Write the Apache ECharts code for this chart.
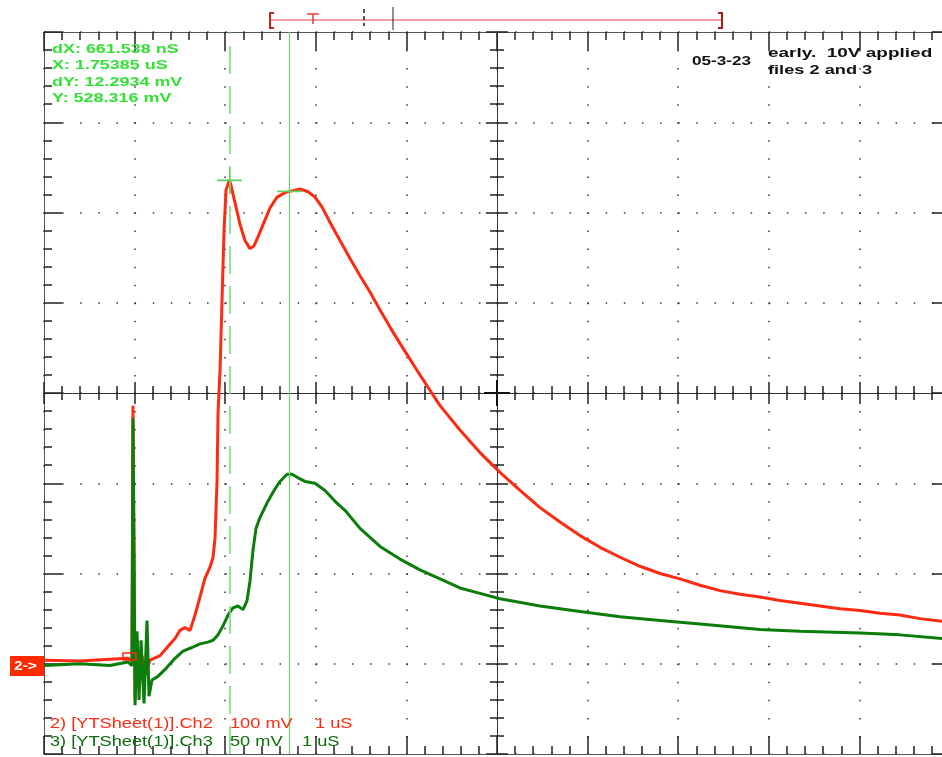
<!DOCTYPE html>
<html>
<head>
<meta charset="utf-8">
<title>scope capture</title>
<script src="https://cdn.jsdelivr.net/npm/echarts@6/dist/echarts.min.js"></script>
<style>
html,body{margin:0;padding:0;background:#fff;}
#main{width:942px;height:757px;}
</style>
</head>
<body>
<div id="main"></div>
<script>
// Ch2 (red, 100 mV/div): time in uS, value in mV
var ch2Time = [-0.95, -0.56, -0.23, -0.03, 0.015, 0.026, 0.038, 0.049, 0.071, 0.093, 0.126, 0.159, 0.214, 0.325, 0.402, 0.490, 0.545, 0.600, 0.656, 0.711, 0.766, 0.821, 0.876, 0.910, 0.932, 0.954, 0.965, 0.987, 1.009, 1.031, 1.053, 1.090, 1.108, 1.152, 1.207, 1.262, 1.317, 1.361, 1.406, 1.472, 1.538, 1.616, 1.704, 1.781, 1.870, 1.958, 2.035, 2.113, 2.201, 2.311, 2.422, 2.532, 2.642, 2.753, 2.863, 2.973, 3.194, 3.415, 3.635, 3.856, 4.077, 4.298, 4.519, 4.739, 4.960, 5.181, 5.402, 5.622, 5.843, 6.064, 6.285, 6.506, 6.726, 6.947, 7.168, 7.389, 7.609, 7.830, 8.051, 8.272, 8.492, 8.713, 8.956, 9.044];
var ch2Mv = [9, 8, 10, 11, 9, 291, 120, -35, 31, -24, 14, -8, 9, 14, 23, 33, 42, 45, 42, 59, 79, 100, 112, 123, 145, 208, 283, 330, 408, 485, 530, 541, 535, 516, 492, 474, 465, 468, 478, 494, 510, 522, 527, 529, 531, 528, 522, 511, 494, 474, 454, 435, 417, 397, 378, 360, 325, 291, 264, 239, 217, 197, 178, 162, 147, 134, 123, 113, 105, 99, 92, 86, 82, 79, 75, 72, 69, 66, 64, 61, 59, 55, 52, 51];

// Ch3 (green, 50 mV/div)
var ch3Time = [-0.95, -0.56, -0.23, -0.03, 0.015, 0.026, 0.038, 0.049, 0.071, 0.093, 0.115, 0.148, 0.181, 0.203, 0.236, 0.302, 0.402, 0.490, 0.578, 0.678, 0.766, 0.854, 0.910, 0.965, 1.020, 1.075, 1.130, 1.185, 1.241, 1.285, 1.318, 1.351, 1.384, 1.428, 1.505, 1.583, 1.649, 1.726, 1.781, 1.848, 1.925, 2.035, 2.146, 2.256, 2.366, 2.532, 2.753, 2.973, 3.194, 3.415, 3.635, 3.856, 4.077, 4.519, 4.960, 5.402, 5.843, 6.285, 6.947, 7.389, 8.051, 8.492, 8.956, 9.044];
var ch3Mv = [-1, 0, -1, 1, -1, 136, 57, -23, 18, -20, 13, -22, 24, -18, -9, -7, -2, 3, 7, 9, 11, 12, 13, 16, 21, 27, 31, 32, 30, 35, 46, 63, 75, 81, 89, 96, 101, 105, 105, 103, 101, 100, 96, 90, 85, 75, 65, 58, 52, 47, 42, 39, 36, 32, 29, 26, 24, 22, 19, 18, 17, 16, 14, 14];

// cursor readout
var cursorX = 1.75385;   // uS
var cursorDx = 0.661538; // uS
var cursorY = 528.316;   // mV
var cursorDy = 12.2934;  // mV
var readouts = ['dX: 661.538 nS', 'X: 1.75385 uS', 'dY: 12.2934 mV', 'Y: 528.316 mV'];
var notes = ['05-3-23', 'early.  10V applied', 'files 2 and 3'];
var ch2Label = ['2) [YTSheet(1)].Ch2', '100 mV', '1 uS'];
var ch3Label = ['3) [YTSheet(1)].Ch3', '50 mV', '1 uS'];

function zip(xs, ys) {
    var out = [];
    for (var i = 0; i < xs.length; i++) out.push([xs[i], ys[i]]);
    return out;
}

var myChart = echarts.init(document.getElementById('main'));

var tickColor = '#222';
function frameAxis(pos, extra) {
    var a = {
        gridIndex: 0, type: 'value', position: pos,
        axisLine: {show: true, onZero: false, lineStyle: {color: '#555', width: 1}},
        axisTick: {show: true, inside: true, length: 18, lineStyle: {color: tickColor, width: 1.5}},
        minorTick: {show: true, splitNumber: 5, length: 8, lineStyle: {color: tickColor, width: 1.5}},
        axisLabel: {show: false},
        splitLine: {show: false}
    };
    for (var k in extra) a[k] = extra[k];
    return a;
}
function centerAxis(pos, offset, inside, showLine, range) {
    return {
        gridIndex: 0, type: 'value', position: pos, offset: offset,
        min: range.min, max: range.max, interval: range.interval,
        axisLine: {show: showLine, onZero: false, lineStyle: {color: '#333', width: 1}},
        axisTick: {show: true, inside: inside, length: 11, lineStyle: {color: tickColor, width: 1.5}},
        minorTick: {show: true, splitNumber: 5, length: 7, lineStyle: {color: tickColor, width: 1.5}},
        axisLabel: {show: false},
        splitLine: {show: false}
    };
}

var xDiv = {min: 0, max: 10, interval: 1};
var yDiv = {min: -4, max: 4, interval: 1};

function txt(x, y, s, color, font, sx) {
    return {
        type: 'text', x: x, y: y, scaleX: sx, z: 100,
        style: {text: s, fill: color, font: font, verticalAlign: 'middle'}
    };
}
var boldFont = 'bold 13px "Liberation Sans", Arial, sans-serif';
var plainFont = '14px "Liberation Sans", Arial, sans-serif';
var green = '#35e035';
var barRed = '#d84040';

var option = {
    animation: false,
    backgroundColor: '#fff',
    grid: {left: 44, top: 32, width: 906, height: 722, outerBoundsMode: 'none', containLabel: false},
    xAxis: [
        frameAxis('bottom', {min: 0, max: 10, interval: 1,
            splitLine: {show: true, lineStyle: {color: '#333', width: 1.5, type: [1.5, 16.55]}}}),
        frameAxis('top', xDiv),
        centerAxis('bottom', -361, true, true, xDiv),
        centerAxis('bottom', -361, false, false, xDiv),
        {gridIndex: 0, type: 'value', min: -0.956, max: 9.044, show: false}
    ],
    yAxis: [
        frameAxis('left', {min: -4, max: 4, interval: 1,
            splitLine: {show: true, lineStyle: {color: '#333', width: 1.5, type: [1.5, 16.62]}}}),
        frameAxis('right', yDiv),
        centerAxis('left', -453, true, true, yDiv),
        centerAxis('left', -453, false, false, yDiv),
        {gridIndex: 0, type: 'value', min: -95, max: 705, show: false},
        {gridIndex: 0, type: 'value', min: -50, max: 350, show: false}
    ],
    series: [
        {
            name: 'Ch2', type: 'line', xAxisIndex: 4, yAxisIndex: 4,
            data: zip(ch2Time, ch2Mv), showSymbol: false, z: 3,
            lineStyle: {color: '#ff2a12', width: 3}
        },
        {
            name: 'Ch3', type: 'line', xAxisIndex: 4, yAxisIndex: 5,
            data: zip(ch3Time, ch3Mv), showSymbol: false, z: 4,
            lineStyle: {color: '#0b7d0b', width: 3}
        },
        {
            // cursors
            name: 'cursor', type: 'line', xAxisIndex: 4, yAxisIndex: 4, data: [], z: 10,
            markLine: {
                silent: true, symbol: ['none', 'none'], label: {show: false},
                data: [
                    {xAxis: cursorX - cursorDx, lineStyle: {type: [28, 12], color: '#6ee06e', width: 1.5}},
                    {xAxis: cursorX, lineStyle: {type: 'solid', color: '#6cd86c', width: 1.2}}
                ]
            },
            markPoint: {
                silent: true, symbol: 'path://M0,11.5H24V12.5H0Z M11.5,5H12.5V19H11.5Z', symbolSize: [25, 25],
                itemStyle: {color: '#5fd25f'}, label: {show: false},
                data: [
                    {coord: [cursorX - cursorDx, cursorY + cursorDy]},
                    {coord: [cursorX, cursorY]}
                ]
            }
        }
    ],
    graphic: [
        // record bar on top
        {type: 'line', shape: {x1: 270, y1: 20, x2: 722, y2: 20}, style: {stroke: barRed, lineWidth: 1}},
        {type: 'polyline', shape: {points: [[274, 13], [270, 13], [270, 28], [274, 28]]}, style: {stroke: '#c02a1a', lineWidth: 2, fill: null}},
        {type: 'polyline', shape: {points: [[718, 13], [722, 13], [722, 28], [718, 28]]}, style: {stroke: '#b01a10', lineWidth: 2, fill: null}},
        {type: 'line', shape: {x1: 307, y1: 14, x2: 319, y2: 14}, style: {stroke: barRed, lineWidth: 1.5}},
        {type: 'line', shape: {x1: 313, y1: 14, x2: 313, y2: 24}, style: {stroke: barRed, lineWidth: 1.5}},
        {type: 'line', shape: {x1: 364, y1: 9, x2: 364, y2: 26}, style: {stroke: '#222', lineWidth: 1.5, lineDash: [4, 3]}},
        {type: 'line', shape: {x1: 393, y1: 7, x2: 393, y2: 30}, style: {stroke: '#222', lineWidth: 1}},
        // thicker centre of the crosshair
        {type: 'line', shape: {x1: 484, y1: 393, x2: 510, y2: 393}, style: {stroke: '#111', lineWidth: 2}, z: 20},
        {type: 'line', shape: {x1: 497, y1: 380, x2: 497, y2: 406}, style: {stroke: '#111', lineWidth: 2}, z: 20},
        // channel marker
        {type: 'rect', shape: {x: 10, y: 656, width: 34, height: 20}, style: {fill: '#ff2a00'}, z: 50},
        txt(14, 666, '2->', '#fff', boldFont, 1.2),
        // trigger marker
        {type: 'rect', shape: {x: 123, y: 653, width: 13, height: 7}, style: {fill: null, stroke: '#ff2a12', lineWidth: 1.5}, z: 50},
        // readouts
        txt(52, 49, readouts[0], green, boldFont, 1.38),
        txt(52, 65.5, readouts[1], green, boldFont, 1.38),
        txt(52, 82, readouts[2], green, boldFont, 1.38),
        txt(52, 98, readouts[3], green, boldFont, 1.38),
        txt(692, 61, notes[0], '#111', boldFont, 1.32),
        txt(768, 53, notes[1], '#111', boldFont, 1.46),
        txt(768, 70, notes[2], '#111', boldFont, 1.4),
        txt(50, 724, ch2Label[0], '#ff2a12', plainFont, 1.3),
        txt(230, 724, ch2Label[1], '#ff2a12', plainFont, 1.3),
        txt(315, 724, ch2Label[2], '#ff2a12', plainFont, 1.3),
        txt(50, 742, ch3Label[0], '#0b6d0b', plainFont, 1.3),
        txt(230, 742, ch3Label[1], '#0b6d0b', plainFont, 1.3),
        txt(302, 742, ch3Label[2], '#0b6d0b', plainFont, 1.3)
    ]
};

myChart.setOption(option);
</script>
</body>
</html>
